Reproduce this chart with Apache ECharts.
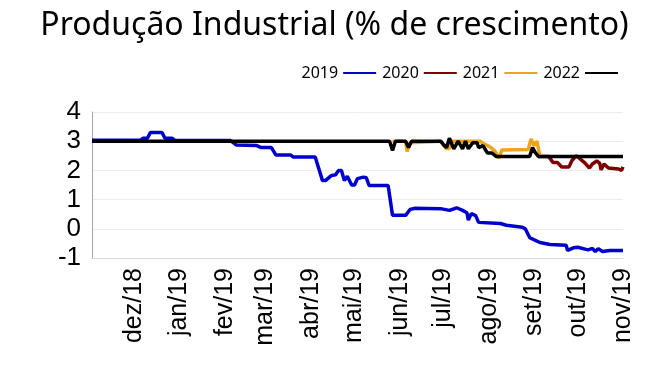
<!DOCTYPE html>
<html>
<head>
<meta charset="utf-8">
<script src="https://cdn.jsdelivr.net/npm/echarts@6/dist/echarts.min.js"></script>
<style>
html,body{margin:0;padding:0;background:#fff;}
#chart{width:669px;height:373px;}
</style>
</head>
<body>
<div id="chart"></div>
<script>
const titleText = 'Produção Industrial (% de crescimento)';
const seriesNames = ['2019', '2020', '2021', '2022'];
const monthNames = ['jan','fev','mar','abr','mai','jun','jul','ago','set','out','nov','dez'];
const tickMonths = ['2018-12','2019-01','2019-02','2019-03','2019-04','2019-05','2019-06','2019-07','2019-08','2019-09','2019-10','2019-11'];
const yTicks = [-1, 0, 1, 2, 3, 4];

const dates2019 = ['2018-11-02','2018-12-05','2018-12-07','2018-12-10','2018-12-12','2018-12-20','2018-12-22','2018-12-27','2018-12-29',
  '2019-02-05','2019-02-09','2019-02-23','2019-02-26','2019-03-05','2019-03-08','2019-03-18','2019-03-20','2019-04-04','2019-04-09',
  '2019-04-11','2019-04-15','2019-04-18','2019-04-20','2019-04-22','2019-04-24','2019-04-26','2019-04-29','2019-05-01','2019-05-03',
  '2019-05-07','2019-05-09','2019-05-11','2019-05-24','2019-05-27','2019-06-05','2019-06-08','2019-06-11','2019-06-29','2019-07-05',
  '2019-07-10','2019-07-14','2019-07-17','2019-07-18','2019-07-20','2019-07-23','2019-07-25','2019-08-09','2019-08-13','2019-08-24',
  '2019-08-26','2019-08-29','2019-09-05','2019-09-12','2019-09-23','2019-09-24','2019-09-28','2019-10-01','2019-10-08','2019-10-11',
  '2019-10-13','2019-10-15','2019-10-18','2019-10-23','2019-11-01'];
const values2019 = [3.03,3.03,3.1,3.1,3.3,3.3,3.1,3.1,3.02,
  3.02,2.87,2.85,2.78,2.78,2.53,2.53,2.46,2.46,1.65,
  1.65,1.82,1.85,2.0,2.0,1.65,1.8,1.5,1.5,1.72,
  1.77,1.75,1.48,1.48,0.46,0.46,0.66,0.7,0.69,0.63,
  0.72,0.63,0.55,0.3,0.52,0.45,0.22,0.18,0.12,0.05,
  0.0,-0.3,-0.47,-0.54,-0.56,-0.74,-0.65,-0.63,-0.72,-0.67,
  -0.78,-0.68,-0.78,-0.74,-0.74];

const dates2020 = ['2019-09-04','2019-09-11','2019-09-14','2019-09-17','2019-09-20','2019-09-25','2019-09-27','2019-09-30','2019-10-02',
  '2019-10-06','2019-10-09','2019-10-11','2019-10-14','2019-10-16','2019-10-17','2019-10-19','2019-10-22','2019-10-29','2019-10-31','2019-11-01'];
const values2020 = [2.48,2.48,2.27,2.27,2.12,2.12,2.34,2.5,2.42,
  2.25,2.08,2.22,2.32,2.25,2.02,2.22,2.08,2.05,2.0,2.12];

const dates2021 = ['2019-05-27','2019-06-05','2019-06-06','2019-06-08','2019-06-29','2019-07-01','2019-07-03','2019-07-05','2019-07-06',
  '2019-07-17','2019-07-26','2019-07-29','2019-08-02','2019-08-05','2019-08-08','2019-08-10','2019-08-28','2019-08-30','2019-09-01',
  '2019-09-03','2019-09-05'];
const values2021 = [3.0,3.0,2.65,2.95,3.0,2.85,2.75,2.75,3.0,
  3.0,3.0,2.9,2.8,2.68,2.42,2.7,2.72,3.08,2.85,
  3.0,2.5];

const dates2022 = ['2018-11-02','2019-05-25','2019-05-27','2019-05-29','2019-06-05','2019-06-07','2019-06-09','2019-06-29','2019-07-01',
  '2019-07-03','2019-07-05','2019-07-08','2019-07-11','2019-07-14','2019-07-16','2019-07-18','2019-07-21','2019-07-24','2019-07-25',
  '2019-07-28','2019-07-31','2019-08-03','2019-08-06','2019-08-29','2019-08-31','2019-09-02','2019-09-04','2019-11-01'];
const values2022 = [3.0,3.0,2.68,3.0,3.0,2.78,3.0,3.0,2.88,
  2.78,3.1,2.74,3.0,2.74,3.0,2.74,2.95,2.95,2.78,
  2.85,2.6,2.6,2.48,2.48,2.78,2.6,2.48,2.48];

const colors = ['#0000CC', '#7F0000', '#EFA31C', '#000000'];

function ts(s) { const p = s.split('-'); return new Date(+p[0], +p[1] - 1, p.length > 2 ? +p[2] : 1).getTime(); }
function pairs(d, v) { return d.map((x, i) => [ts(x), v[i]]); }

const chart = echarts.init(document.getElementById('chart'));
const allData = [pairs(dates2019, values2019), pairs(dates2020, values2020), pairs(dates2021, values2021), pairs(dates2022, values2022)];

chart.setOption({
  animation: false,
  backgroundColor: '#fff',
  title: {
    text: titleText,
    left: 'center',
    top: 5,
    textStyle: { fontFamily: 'Noto Sans', fontSize: 32, fontWeight: 'normal', color: '#000' }
  },
  legend: {
    data: seriesNames,
    right: 46,
    top: 60,
    align: 'right',
    icon: 'rect',
    itemWidth: 33,
    itemHeight: 2,
    itemGap: 6,
    textStyle: { fontFamily: 'Noto Sans', fontSize: 16, color: '#000' }
  },
  grid: { left: 92, right: 46, top: 112, bottom: 115, containLabel: false },
  xAxis: {
    type: 'value',
    min: ts('2018-11-02'),
    max: ts('2019-11-01'),
    axisLine: { show: true, onZero: false, lineStyle: { color: '#D9D9D9', width: 1 } },
    axisTick: { show: false },
    splitLine: { show: false },
    axisLabel: {
      customValues: tickMonths.map(ts),
      rotate: 90,
      margin: 10,
      fontFamily: 'Liberation Sans',
      fontSize: 25,
      color: '#000',
      formatter: function (val) {
        const d = new Date(val);
        return monthNames[d.getMonth()] + '/' + String(d.getFullYear()).slice(2);
      }
    }
  },
  yAxis: {
    type: 'value',
    min: yTicks[0],
    max: yTicks[yTicks.length - 1],
    interval: 1,
    axisLine: { show: true, lineStyle: { color: '#A6A6A6', width: 1 } },
    axisTick: { show: false },
    splitLine: { show: true, lineStyle: { color: '#ECECEC', width: 1 } },
    axisLabel: { fontFamily: 'Liberation Sans', fontSize: 26, color: '#000', margin: 11 }
  },
  series: seriesNames.map((n, i) => ({
    name: n,
    type: 'line',
    data: allData[i],
    symbol: 'none',
    lineStyle: { color: colors[i], width: 3.5 },
    itemStyle: { color: colors[i] }
  }))
});
</script>
</body>
</html>
